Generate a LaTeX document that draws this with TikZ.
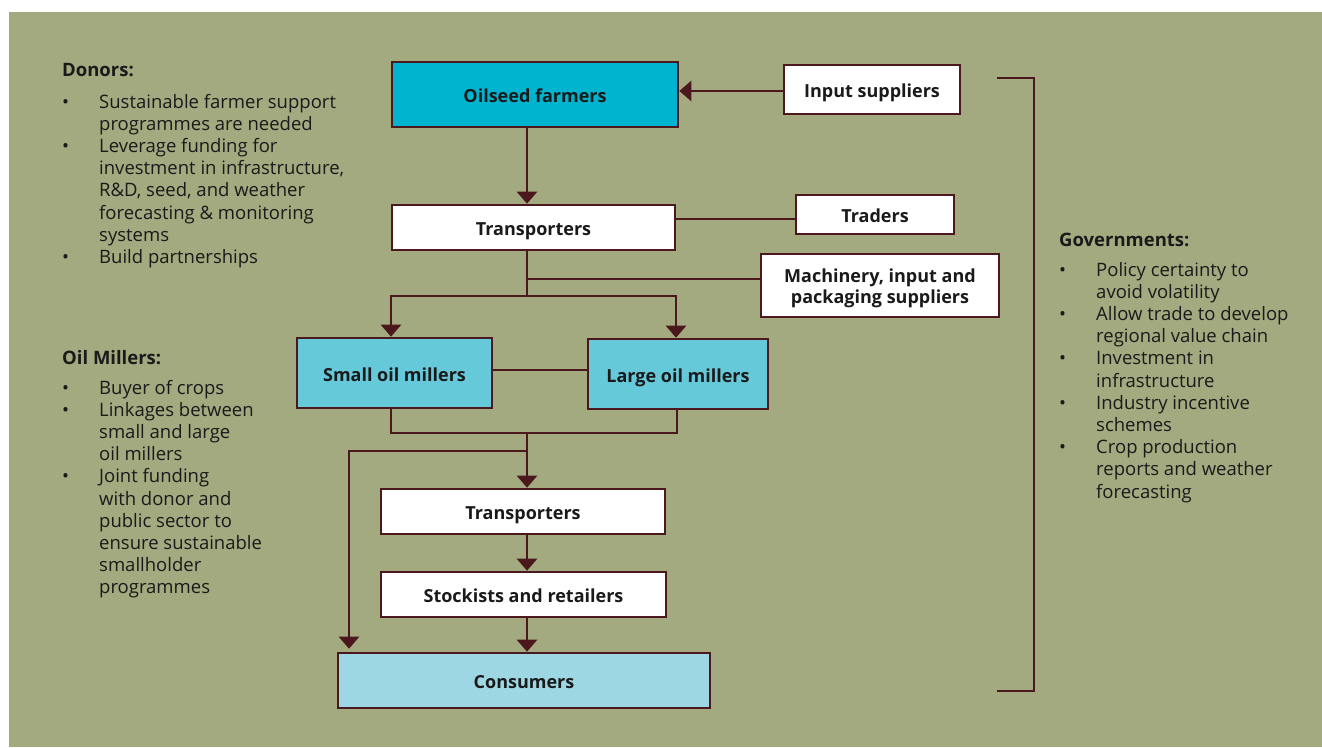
\documentclass[tikz,border=0pt]{standalone}
\usepackage{fontspec}
\setmainfont{Open Sans}
\usetikzlibrary{arrows.meta}
\definecolor{bg}{HTML}{A3AA80}
\definecolor{ln}{HTML}{4B181D}
\definecolor{tx}{HTML}{1A1A1A}
\definecolor{farmc}{HTML}{00B4D0}
\definecolor{millc}{HTML}{66C9DA}
\definecolor{consc}{HTML}{9DD7E3}
\begin{document}
\begin{tikzpicture}[x=1pt,y=-1pt,
  mbox/.style={draw=ln, line width=2.6pt, text=tx, align=center, inner sep=0pt,
    font=\bfseries\fontsize{18}{21.3}\selectfont},
  box/.style={mbox, text height=16.5pt, text depth=0pt},
  wbox/.style={box, fill=white},
  conn/.style={draw=ln, line width=2.6pt},
  arr/.style={conn, -{Triangle[width=20pt,length=12pt]}},
  hd/.style={anchor=base west, inner sep=0pt, text=tx, font=\bfseries\fontsize{18.5}{22.2}\selectfont},
  lst/.style={anchor=base west, inner sep=0pt, text=tx, font=\fontsize{18.5}{22.2}\selectfont}]
\useasboundingbox (0,0) rectangle (1322,747);
\fill[bg] (9,12) rectangle (1322,747);

% boxes
\node[box, fill=farmc, minimum width=286pt, minimum height=65pt] (farm) at (535,94.5) {Oilseed farmers};
\node[wbox, minimum width=176pt, minimum height=49pt] (inp) at (872,89.5) {Input suppliers};
\node[wbox, minimum width=283pt, minimum height=45pt] (tr1) at (533.5,227.5) {Transporters};
\node[wbox, minimum width=158pt, minimum height=39pt] (trad) at (875,214.5) {Traders};
\node[mbox, fill=white, minimum width=238pt, minimum height=63pt] (mach) at (880,285.5) {\raisebox{-3pt}[\height][\depth]{\begin{tabular}{@{}c@{}}Machinery, input and\\packaging suppliers\end{tabular}}};
\node[box, fill=millc, minimum width=195pt, minimum height=70pt] (small) at (394.5,373) {Small oil millers};
\node[box, fill=millc, minimum width=180pt, minimum height=70pt] (large) at (678,374) {Large oil millers};
\node[wbox, minimum width=284pt, minimum height=45pt] (tr2) at (523,511.5) {Transporters};
\node[wbox, minimum width=285pt, minimum height=45pt] (stock) at (523.5,594.5) {Stockists and retailers};
\node[box, fill=consc, minimum width=372pt, minimum height=55pt] (cons) at (524,680.5) {Consumers};

% reference coordinates
\coordinate (s1) at (527,0);
\coordinate (xs) at (391,0);
\coordinate (xl) at (676,0);
\coordinate (xl2) at (677,0);
\coordinate (xc) at (349,0);
\coordinate (ay) at (0,91);
\coordinate (ty) at (0,219);
\coordinate (my) at (0,279);
\coordinate (b1) at (527,296);
\coordinate (ly) at (0,370);
\coordinate (jy) at (0,433);
\coordinate (ky) at (0,451);

% connectors
\draw[arr] (inp.west |- ay) -- (farm.east |- ay);
\draw[arr] (farm.south -| s1) -- (tr1.north -| s1);
\draw[conn] (tr1.east |- ty) -- (trad.west |- ty);
\draw[conn] (tr1.south -| s1) -- (b1);
\draw[conn] (s1 |- my) -- (mach.west |- my);
\draw[arr] (b1) -| (small.north -| xs);
\draw[arr] (b1) -| (large.north -| xl);
\draw[conn] (small.east |- ly) -- (large.west |- ly);
\draw[conn] (small.south -| xs) -- (xs |- jy) -- (xl2 |- jy) -- (large.south -| xl2);
\draw[arr] (s1 |- jy) -- (tr2.north -| s1);
\draw[arr, shorten >=3pt] (s1 |- ky) -| (cons.north -| xc);
\draw[arr] (tr2.south -| s1) -- (stock.north -| s1);
\draw[arr] (stock.south -| s1) -- (cons.north -| s1);

% bracket
\draw[conn, line width=2.4pt] (997,78) -- (1034,78) -- (1034,691) -- (997,691);

% text blocks
\node[hd] (dh) at (62,76) {Donors:};
\node[lst] (dl) at (62,108) {\begin{tabular}[t]{@{}p{37pt}@{}l@{}}
•&Sustainable farmer support\\
&programmes are needed\\
•&Leverage funding for\\
&investment in infrastructure,\\
&R\&D, seed, and weather\\
&forecasting \& monitoring\\
&systems\\
•&Build partnerships
\end{tabular}};

\node[hd] (mh) at (62,364) {Oil Millers:};
\node[lst] (ml) at (62,394) {\begin{tabular}[t]{@{}p{37pt}@{}l@{}}
•&Buyer of crops\\
•&Linkages between\\
&small and large\\
&oil millers\\
•&Joint funding\\
&with donor and\\
&public sector to\\
&ensure sustainable\\
&smallholder\\
&programmes
\end{tabular}};

\node[hd] (gh) at (1059,246) {Governments:};
\node[lst] (gl) at (1059,276) {\begin{tabular}[t]{@{}p{37pt}@{}l@{}}
•&Policy certainty to\\
&avoid volatility\\
•&Allow trade to develop\\
&regional value chain\\
•&Investment in\\
&infrastructure\\
•&Industry incentive\\
&schemes\\
•&Crop production\\
&reports and weather\\
&forecasting
\end{tabular}};
\end{tikzpicture}
\end{document}
